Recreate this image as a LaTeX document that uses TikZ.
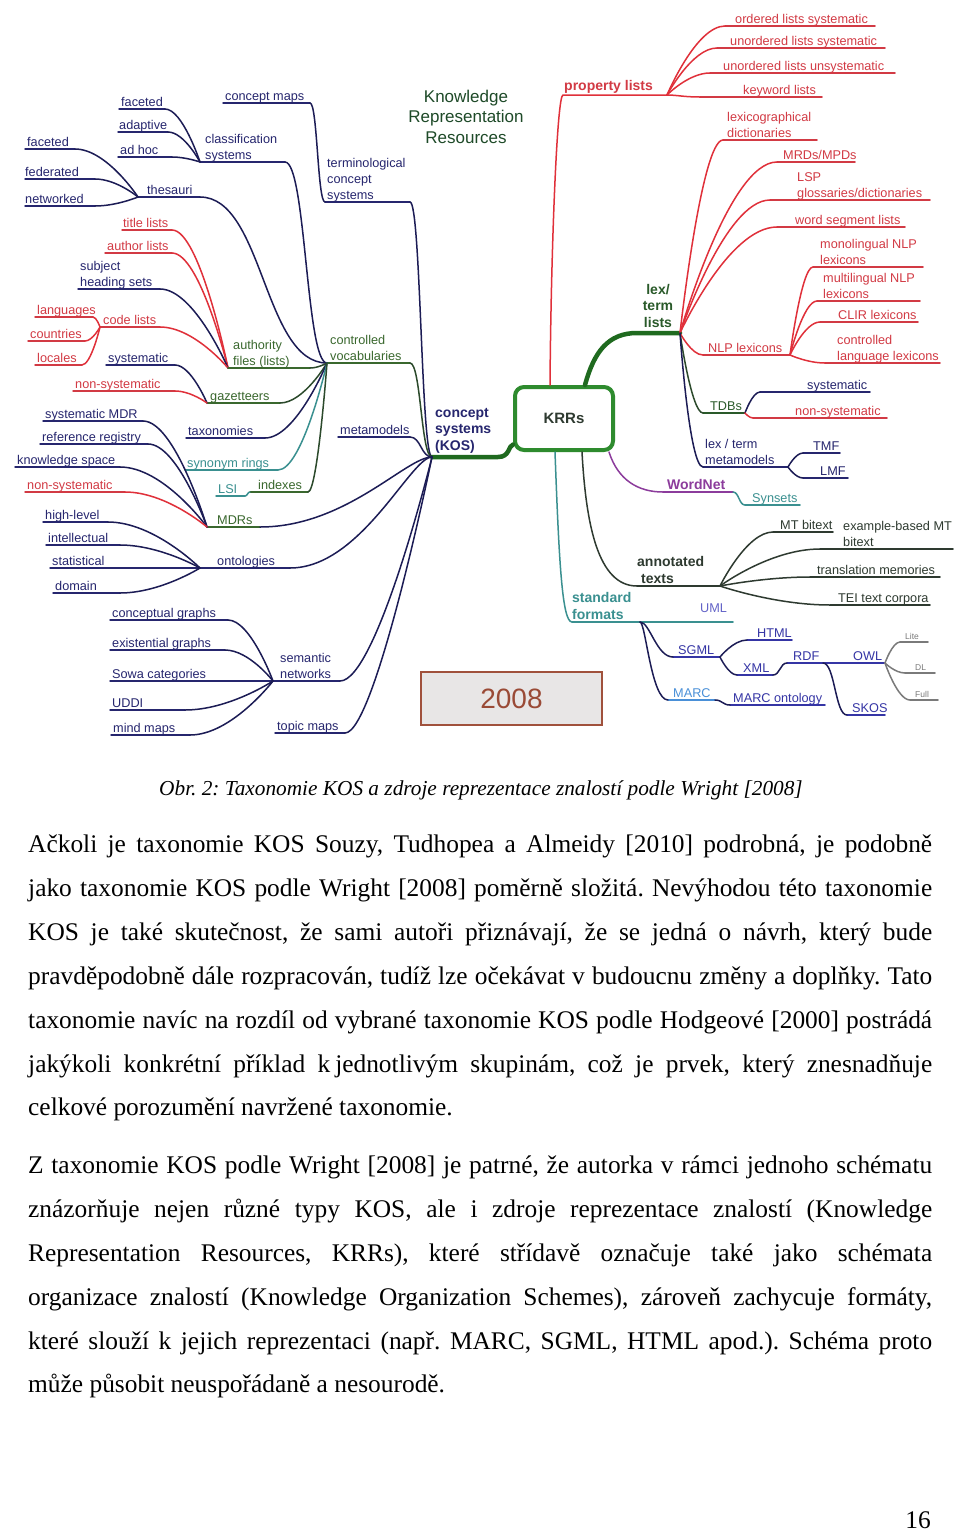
\documentclass[tikz,border=0pt]{standalone}
\usepackage{fontspec}
\setmainfont{Liberation Serif}
\setsansfont{Liberation Sans}
\usetikzlibrary{calc}
\definecolor{nv}{HTML}{26266E}
\definecolor{nvl}{HTML}{1C1C55}
\definecolor{nvb}{HTML}{3535A5}
\definecolor{rd}{HTML}{D23A44}
\definecolor{rdl}{HTML}{E0303A}
\definecolor{gr}{HTML}{3A682E}
\definecolor{grl}{HTML}{2C4A2C}
\definecolor{grd}{HTML}{2A5A2A}
\definecolor{tl}{HTML}{3A9090}
\definecolor{kg}{HTML}{2E8B2E}
\definecolor{kgd}{HTML}{1F6A1F}
\definecolor{pu}{HTML}{8C3C9C}
\definecolor{dk}{HTML}{2E3A30}
\definecolor{um}{HTML}{6464C8}
\definecolor{mc}{HTML}{4A90D8}
\definecolor{gy}{HTML}{7A7A7A}
\definecolor{tg}{HTML}{1E4A28}
\definecolor{yb}{HTML}{A0513C}
\definecolor{yf}{HTML}{E8E6E6}
\definecolor{yt}{HTML}{9A4A36}
\tikzset{
 lbl/.style={font=\sffamily\fontsize{12.7}{16}\selectfont, inner sep=0pt, anchor=base west},
 bld/.style={font=\sffamily\bfseries\fontsize{14}{16.5}\selectfont},
 tny/.style={font=\sffamily\fontsize{8.5}{10}\selectfont},
 ln/.style={line width=1.5pt, line cap=round},
 trunk/.style={line width=4.5pt, draw=kgd, line cap=round},
 body/.style={font=\fontsize{25.4}{30}\selectfont\frenchspacing, inner sep=0pt, anchor=base west},
}
\newcommand\ml[2][l]{\begin{tabular}[b]{@{}#1@{}}#2\end{tabular}}
\newcommand\lf[8][]{\node[lbl,text=#3,#1] (#2) at (#4,#5-3) {#6};
 \coordinate (#2a) at (#7,#5); \coordinate (#2b) at (#8,#5);
 \draw[ln,draw=#3] (#2a) -- (#2b);}
\newcommand\cn[5]{\draw[ln,draw=#1] let \p1=(#2), \p2=(#3) in (\p1) .. controls ({\x1+#4*(\x2-\x1)},\y1) and ({\x2-#5*(\x2-\x1)},\y2) .. (\p2);}
\newcommand\jl[1]{\makebox[904pt][s]{#1}}
\begin{document}
\begin{tikzpicture}[x=1pt,y=-1pt]
\fill[white] (0,0) rectangle (960,1532);
\useasboundingbox (0,0) rectangle (960,1532);

% ---------- centre ----------
\node[font=\sffamily\fontsize{17}{20.5}\selectfont, text=tg, inner sep=0pt, anchor=base] (title) at (466,143) {\ml[c]{Knowledge\\Representation\\Resources}};
\node[draw=kg, line width=4pt, rounded corners=9pt, minimum width=98pt, minimum height=63pt, inner sep=0pt, font=\sffamily\bfseries\fontsize{15}{17}\selectfont, text=dk] (krr) at (564,418.5) {KRRs};
\node[lbl,bld,text=nv] (kos) at (435,450) {\ml{concept\\systems\\(KOS)}};
\coordinate (Jkos) at (432,457);
\coordinate (kosE) at (498,457);
\draw[trunk] (Jkos) -- (kosE) .. controls (510,457) and (508,446) .. ($(krr.west)+(0,26)$);

% ---------- left: classification / terminological ----------
\coordinate (Jcls) at (200,162);
\lf{fac1}{nv}{121}{109}{faceted}{119}{165}
\lf{adap}{nv}{119}{132}{adaptive}{118}{168}
\lf{adhoc}{nv}{120}{157}{ad hoc}{118}{172}
\lf{cls}{nv}{205}{162}{\ml{classification\\systems}}{200}{285}
\cn{nvl}{fac1b}{Jcls}{.5}{0}
\cn{nvl}{adapb}{Jcls}{.5}{0}
\cn{nvl}{adhocb}{Jcls}{.5}{0}

\coordinate (Jtcs) at (325,202);
\lf{cmap}{nv}{225}{103}{concept maps}{223}{310}
\lf{tcs}{nv}{327}{202}{\ml{terminological\\concept\\systems}}{325}{410}
\cn{nvl}{cmapb}{Jtcs}{.5}{.5}
\cn{nvl}{tcsb}{Jkos}{.5}{.5}

\coordinate (Jth) at (138,197);
\lf{fac2}{nv}{27}{149}{faceted}{25}{75}
\lf{fed}{nv}{25}{179}{federated}{25}{95}
\lf{netw}{nv}{25}{206}{networked}{25}{95}
\lf{thes}{nv}{147}{197}{thesauri}{138}{200}
\cn{nvl}{fac2b}{Jth}{.5}{0}
\cn{nvl}{fedb}{Jth}{.5}{0}
\cn{nvl}{netwb}{Jth}{.5}{0}

% ---------- controlled vocabularies ----------
\coordinate (Jcv) at (327,363);
\coordinate (Jaf) at (228,368);
\lf{ttl}{rd}{123}{230}{title lists}{122}{172}
\lf{aut}{rd}{107}{253}{author lists}{105}{172}
\lf{subj}{nv}{80}{289}{\ml{subject\\heading sets}}{78}{160}
\lf{code}{rd}{103}{327}{code lists}{100}{160}
\coordinate (Jcl) at (100,327);
\lf{lang}{rd}{37}{317}{languages}{35}{93}
\lf{ctry}{rd}{30}{341}{countries}{28}{85}
\lf{loc}{rd}{37}{365}{locales}{35}{82}
\cn{rdl}{langb}{Jcl}{.5}{0}
\cn{rdl}{ctryb}{Jcl}{.5}{0}
\cn{rdl}{locb}{Jcl}{.5}{0}
\cn{rdl}{ttlb}{Jaf}{.5}{0}
\cn{rdl}{autb}{Jaf}{.5}{0}
\cn{nvl}{subjb}{Jaf}{.5}{0}
\cn{rdl}{codeb}{Jaf}{.5}{0}
\lf{af}{gr}{233}{368}{\ml{authority\\files (lists)}}{228}{310}

\coordinate (Jgz) at (207,403);
\lf{sys1}{nv}{108}{365}{systematic}{106}{175}
\lf{nsys1}{rd}{75}{391}{non-systematic}{73}{175}
\lf{gaz}{gr}{210}{403}{gazetteers}{207}{280}
\cn{nvl}{sys1b}{Jgz}{.5}{0}
\cn{rdl}{nsys1b}{Jgz}{.5}{0}
\lf{tax}{nv}{188}{438}{taxonomies}{186}{265}
\lf{syr}{tl}{187}{470}{synonym rings}{185}{278}
\lf{lsi}{tl}{218}{496}{LSI}{216}{245}
\lf{idx}{gr}{258}{492}{indexes}{250}{308}
\cn{tl}{lsib}{idxa}{.5}{.5}
\lf{cv}{gr}{330}{363}{\ml{controlled\\vocabularies}}{327}{410}
\cn{nvl}{clsb}{Jcv}{.5}{.5}
\cn{nvl}{thesb}{Jcv}{.5}{.5}
\cn{grl}{afb}{Jcv}{.5}{0}
\cn{grl}{gazb}{Jcv}{.5}{0}
\cn{nvl}{taxb}{Jcv}{.5}{0}
\cn{tl}{syrb}{Jcv}{.5}{0}
\cn{grl}{idxb}{Jcv}{.5}{0}
\cn{grl}{cvb}{Jkos}{.5}{.5}
\lf{meta}{nv}{340}{437}{metamodels}{338}{410}
\cn{nvl}{metab}{Jkos}{.5}{.5}

% ---------- MDRs ----------
\coordinate (Jmdr) at (207,527);
\lf{smdr}{nv}{45}{421}{systematic MDR}{43}{143}
\lf{rreg}{nv}{42}{444}{reference registry}{40}{148}
\lf{ksp}{nv}{17}{467}{knowledge space}{15}{120}
\lf{nsys2}{rd}{27}{492}{non-systematic}{25}{125}
\lf{mdrs}{gr}{217}{527}{MDRs}{207}{260}
\cn{nvl}{smdrb}{Jmdr}{.5}{0}
\cn{nvl}{rregb}{Jmdr}{.5}{0}
\cn{nvl}{kspb}{Jmdr}{.5}{0}
\cn{rdl}{nsys2b}{Jmdr}{.5}{0}
\cn{nvl}{mdrsb}{Jkos}{.5}{.15}

% ---------- ontologies ----------
\coordinate (Jont) at (200,568);
\lf{hl}{nv}{45}{522}{high-level}{43}{108}
\lf{intl}{nv}{48}{545}{intellectual}{46}{120}
\lf{stat}{nv}{52}{568}{statistical}{50}{200}
\lf{dom}{nv}{55}{593}{domain}{53}{120}
\lf{ont}{nv}{217}{568}{ontologies}{200}{290}
\cn{nvl}{hlb}{Jont}{.5}{0}
\cn{nvl}{intlb}{Jont}{.5}{0}
\cn{nvl}{domb}{Jont}{.5}{0}
\cn{nvl}{ontb}{Jkos}{.5}{.15}

% ---------- semantic networks ----------
\coordinate (Jsn) at (273,681);
\lf{cg}{nv}{112}{620}{conceptual graphs}{110}{228}
\lf{eg}{nv}{112}{650}{existential graphs}{110}{225}
\lf{sowa}{nv}{112}{681}{Sowa categories}{110}{273}
\lf{uddi}{nv}{112}{710}{UDDI}{110}{185}
\lf{mm}{nv}{113}{735}{mind maps}{111}{190}
\lf{sn}{nv}{280}{681}{\ml{semantic\\networks}}{273}{340}
\lf{tpm}{nv}{277}{733}{topic maps}{275}{345}
\cn{nvl}{cgb}{Jsn}{.5}{0}
\cn{nvl}{egb}{Jsn}{.5}{0}
\cn{nvl}{uddib}{Jsn}{.5}{0}
\cn{nvl}{mmb}{Jsn}{.5}{0}
\cn{nvl}{snb}{Jkos}{.4}{0}
\cn{nvl}{tpmb}{Jkos}{.35}{0}

% ---------- property lists ----------
\node[lbl,bld,text=rd] (pl) at (564,90) {property lists};
\coordinate (plA) at (563,95);
\coordinate (Jpl) at (667,95);
\draw[ln,draw=rdl] ($(krr.north)+(-14,0)$) .. controls (551,250) and (557,95) .. (plA) -- (Jpl);
\lf{ols}{rd}{735}{26}{ordered lists systematic}{725}{875}
\lf{uls}{rd}{730}{48}{unordered lists systematic}{717}{885}
\lf{ulu}{rd}{723}{73}{unordered lists unsystematic}{710}{895}
\lf{kwl}{rd}{743}{97}{keyword lists}{700}{822}
\cn{rdl}{olsa}{Jpl}{.5}{0}
\cn{rdl}{ulsa}{Jpl}{.5}{0}
\cn{rdl}{ulua}{Jpl}{.5}{0}
\cn{rdl}{kwla}{Jpl}{.5}{.3}

% ---------- lex / term lists ----------
\node[lbl,bld,text=grd,anchor=base] (lt) at (658,327) {\ml[c]{lex/\\term\\lists}};
\coordinate (ltA) at (637,333);
\coordinate (Jlt) at (680,333);
\draw[trunk] ($(krr.north)+(21,0)$) .. controls (594,352) and (608,333) .. (ltA) -- (Jlt);
\lf{lexd}{rd}{727}{140}{\ml{lexicographical\\dictionaries}}{723}{817}
\lf{mrd}{rd}{783}{162}{MRDs/MPDs}{777}{855}
\lf{lsp}{rd}{797}{200}{\ml{LSP\\glossaries/dictionaries}}{770}{930}
\lf{wsl}{rd}{795}{227}{word segment lists}{777}{905}
\cn{rdl}{lexda}{Jlt}{.5}{0}
\cn{rdl}{mrda}{Jlt}{.5}{0}
\cn{rdl}{lspa}{Jlt}{.5}{0}
\cn{rdl}{wsla}{Jlt}{.5}{0}
\lf{nlp}{rd}{708}{355}{NLP lexicons}{703}{790}
\cn{rdl}{nlpa}{Jlt}{.5}{0}
\coordinate (Jnlp) at (790,355);
\lf{mono}{rd}{820}{267}{\ml{monolingual NLP\\lexicons}}{813}{923}
\lf{multi}{rd}{823}{301}{\ml{multilingual NLP\\lexicons}}{817}{920}
\lf{clir}{rd}{838}{322}{CLIR lexicons}{820}{918}
\lf{cll}{rd}{837}{363}{\ml{controlled\\language lexicons}}{825}{940}
\cn{rdl}{monoa}{Jnlp}{.5}{0}
\cn{rdl}{multia}{Jnlp}{.5}{0}
\cn{rdl}{clira}{Jnlp}{.5}{0}
\cn{rdl}{clla}{Jnlp}{.5}{0}

\lf{tdb}{grd}{710}{413}{TDBs}{703}{745}
\cn{grl}{tdba}{Jlt}{.5}{0}
\coordinate (Jtdb) at (745,413);
\lf{tsys}{nv}{807}{392}{systematic}{760}{870}
\lf{tnon}{rd}{795}{418}{non-systematic}{753}{887}
\cn{nvl}{tsysa}{Jtdb}{.5}{0}
\cn{rdl}{tnona}{Jtdb}{.5}{0}

\lf{ltm}{nv}{705}{467}{\ml{lex / term\\metamodels}}{703}{788}
\cn{nvl}{ltma}{Jlt}{.6}{0}
\coordinate (Jltm) at (788,467);
\lf{tmf}{nv}{813}{453}{TMF}{803}{840}
\lf{lmf}{nv}{820}{478}{LMF}{803}{848}
\cn{nvl}{tmfa}{Jltm}{.5}{0}
\cn{nvl}{lmfa}{Jltm}{.5}{0}

% ---------- WordNet ----------
\lf[bld]{wn}{pu}{667}{492}{WordNet}{663}{733}
\lf{syn2}{tl}{752}{505}{Synsets}{745}{800}
\draw[ln,draw=pu] ($(krr.south east)+(-6,0)$) .. controls (618,480) and (638,492) .. (wna);
\cn{tl}{syn2a}{wnb}{.5}{.5}

% ---------- annotated texts ----------
\lf[bld]{ann}{dk}{637}{586}{\ml{annotated\\\hspace*{4pt}texts}}{637}{720}
\draw[ln,draw=dk] ($(krr.south)+(18,0)$) .. controls (586,525) and (598,586) .. (anna);
\coordinate (Jann) at (720,586);
\lf{mtb}{dk}{780}{532}{MT bitext}{773}{833}
\lf{ebmt}{dk}{843}{549}{\ml{example-based MT\\bitext}}{820}{953}
\lf{trm}{dk}{817}{577}{translation memories}{810}{940}
\lf{tei}{dk}{838}{605}{TEI text corpora}{830}{930}
\cn{dk}{mtba}{Jann}{.5}{0}
\cn{dk}{ebmta}{Jann}{.5}{0}
\cn{dk}{trma}{Jann}{.5}{0}
\cn{dk}{teia}{Jann}{.5}{0}

% ---------- standard formats ----------
\lf[bld]{sf}{tl}{572}{622}{\ml{standard\\formats}}{572}{733}
\draw[ln,draw=tl] ($(krr.south)+(-9,0)$) .. controls (559,560) and (562,622) .. (sfa);
\node[lbl,text=um] (uml) at (700,612) {UML};
\coordinate (Jsf) at (640,622);
\lf{sgml}{nvb}{678}{657}{SGML}{673}{720}
\cn{nvl}{sgmla}{Jsf}{.5}{.3}
\coordinate (Jsg) at (720,657);
\lf{html}{nvb}{757}{640}{HTML}{747}{792}
\lf{xml}{nvb}{743}{675}{XML}{737}{773}
\cn{nvl}{htmla}{Jsg}{.5}{0}
\cn{nvl}{xmla}{Jsg}{.5}{0}
\lf{rdf}{nvb}{793}{663}{RDF}{787}{850}
\lf{owl}{nvb}{853}{663}{OWL}{850}{885}
\cn{nvl}{xmlb}{rdfa}{.5}{.5}
\coordinate (rdfM) at (823,663);
\coordinate (Jowl) at (885,663);
\lf{skos}{nvb}{852}{715}{SKOS}{847}{885}
\cn{nvl}{skosa}{rdfM}{.5}{.5}
\lf[tny]{lite}{gy}{905}{642}{Lite}{900}{928}
\lf[tny]{dl}{gy}{915}{673}{DL}{905}{935}
\lf[tny]{full}{gy}{915}{700}{Full}{910}{938}
\cn{gy}{litea}{Jowl}{.5}{0}
\cn{gy}{dla}{Jowl}{.5}{0}
\cn{gy}{fulla}{Jowl}{.5}{0}
\lf{marc}{mc}{673}{700}{MARC}{668}{715}
\cn{nvl}{marca}{Jsf}{.6}{.2}
\lf{marco}{nvb}{733}{705}{MARC ontology}{730}{825}
\cn{nvl}{marcb}{marcoa}{.5}{.5}

% ---------- year box ----------
\node[draw=yb, fill=yf, line width=2.5pt, minimum width=181pt, minimum height=53pt, inner sep=0pt, font=\sffamily\fontsize{28}{30}\selectfont, text=yt] (yr) at (511.5,698.5) {2008};

% ---------- caption and text ----------
\node[font=\itshape\fontsize{21.3}{25}\selectfont\frenchspacing, inner sep=0pt, anchor=base] (cap) at (481,795) {Obr. 2: Taxonomie KOS a zdroje reprezentace znalostí podle Wright [2008]};

\node[body] (a1) at (28,852) {\jl{Ačkoli je taxonomie KOS Souzy, Tudhopea a Almeidy [2010] podrobná, je podobně}};
\node[body] (a2) at (28,896) {\jl{jako taxonomie KOS podle Wright [2008] poměrně složitá. Nevýhodou této taxonomie}};
\node[body] (a3) at (28,940) {\jl{KOS je také skutečnost, že sami autoři přiznávají, že se jedná o návrh, který bude}};
\node[body] (a4) at (28,984) {\jl{pravděpodobně dále rozpracován, tudíž lze očekávat v budoucnu změny a doplňky. Tato}};
\node[body] (a5) at (28,1028) {\jl{taxonomie navíc na rozdíl od vybrané taxonomie KOS podle Hodgeové [2000] postrádá}};
\node[body] (a6) at (28,1072) {\jl{jakýkoli konkrétní příklad k\hspace{5pt}jednotlivým skupinám, což je prvek, který znesnadňuje}};
\node[body] (a7) at (28,1115) {celkové porozumění navržené taxonomie.};

\node[body] (b1) at (28,1173) {\jl{Z taxonomie KOS podle Wright [2008] je patrné, že autorka v rámci jednoho schématu}};
\node[body] (b2) at (28,1217) {\jl{znázorňuje nejen různé typy KOS, ale i zdroje reprezentace znalostí (Knowledge}};
\node[body] (b3) at (28,1261) {\jl{Representation Resources, KRRs), které střídavě označuje také jako schémata}};
\node[body] (b4) at (28,1305) {\jl{organizace znalostí (Knowledge Organization Schemes), zároveň zachycuje formáty,}};
\node[body] (b5) at (28,1349) {\jl{které slouží k jejich reprezentaci (např. MARC, SGML, HTML apod.). Schéma proto}};
\node[body] (b6) at (28,1392) {může působit neuspořádaně a nesourodě.};

\node[body, anchor=base east] (pg) at (931,1528) {16};
\end{tikzpicture}
\end{document}
